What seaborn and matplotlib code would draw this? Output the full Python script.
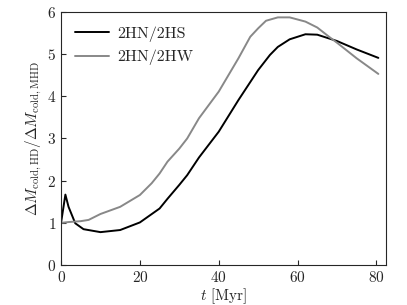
import numpy as np
import pandas as pd
import matplotlib
matplotlib.use("Agg")
import matplotlib.pyplot as plt
import seaborn as sns

t_hs = [0, 1.1, 1.9, 3.6, 5.7, 10, 15, 20, 25, 27, 30, 32, 35, 40, 45, 50, 53, 55, 58, 62, 65, 70, 75, 80.5]
r_hs = [1.0, 1.67, 1.38, 0.99, 0.85, 0.78, 0.83, 1.01, 1.34, 1.57, 1.90, 2.13, 2.55, 3.16, 3.91, 4.62, 4.98, 5.17, 5.35, 5.47, 5.46, 5.31, 5.11, 4.91]
t_hw = [0, 2, 5, 7, 10, 15, 20, 23, 25, 27, 30, 32, 35, 40, 45, 48, 50, 52, 55, 58, 62, 65, 68, 70, 75, 80.5]
r_hw = [1.0, 1.02, 1.04, 1.07, 1.21, 1.38, 1.66, 1.94, 2.17, 2.45, 2.76, 3.0, 3.48, 4.11, 4.90, 5.41, 5.61, 5.79, 5.87, 5.87, 5.77, 5.63, 5.41, 5.27, 4.90, 4.53]
labels = ["2HN/2HS", "2HN/2HW"]

df = pd.concat([
    pd.DataFrame({"t": t_hs, "r": r_hs, "run": labels[0]}),
    pd.DataFrame({"t": t_hw, "r": r_hw, "run": labels[1]}),
])

sns.set_style("ticks")
plt.rcParams["font.family"] = ["cmr10", "DejaVu Serif"]
plt.rcParams["mathtext.fontset"] = "cm"
plt.rcParams["axes.formatter.use_mathtext"] = True
plt.rcParams["axes.unicode_minus"] = False

fig = plt.figure(figsize=(4.07, 3.05), dpi=100)
ax = fig.add_axes([0.150, 0.131, 0.798, 0.830])
sns.lineplot(data=df, x="t", y="r", hue="run", palette=["black", "#888888"],
             linewidth=1.4, ax=ax, sort=False)
ax.set_xlim(0, 82.4)
ax.set_ylim(0, 6)
ax.set_xticks([0, 20, 40, 60, 80])
ax.set_yticks([0, 1, 2, 3, 4, 5, 6])
ax.tick_params(direction="in", labelsize=11, length=3.5)
ax.set_xlabel(r"$t$ [Myr]", fontsize=11, labelpad=1)
ax.set_ylabel(r"$\Delta M_{\rm cold,HD}/\Delta M_{\rm cold,MHD}$", fontsize=11, labelpad=2)
for s in ax.spines.values():
    s.set_linewidth(0.8)
leg = ax.legend(loc="upper left", frameon=False, fontsize=11.5, handlelength=2.1,
                handletextpad=0.5)
fig.savefig("out.png", dpi=100)
